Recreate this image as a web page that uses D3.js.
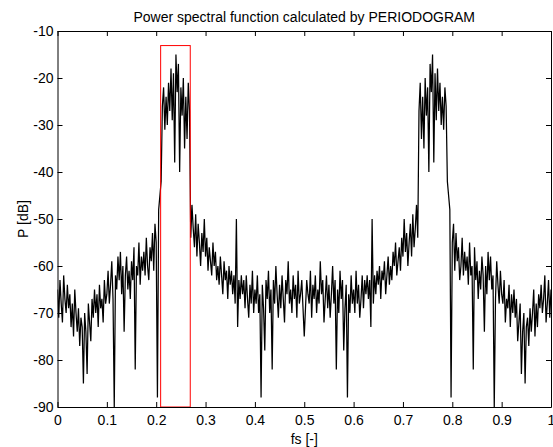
<!DOCTYPE html>
<html>
<head>
<meta charset="utf-8">
<script src="https://cdn.jsdelivr.net/npm/d3@7"></script>
<style>
  body { margin: 0; background: #fff; }
  svg text { font-family: "Liberation Sans", Arial, sans-serif; }
</style>
</head>
<body>
<div id="chart"></div>
<script>
// periodogram values (dB), step of 0.0025 in fs
const freqStep = 0.0025;
const powerLeft = [
  -65, -71, -63, -68, -72, -62, -67, -70, -64, -69,
  -66, -73, -68, -75, -65, -70, -74, -69, -77, -71,
  -73, -85, -70, -74, -83, -68, -72, -76, -67, -71,
  -65, -70, -66, -73, -64, -69, -67, -72, -63, -68,
  -66, -61, -68, -64, -59, -67, -90, -62, -65, -58,
  -63, -57, -66, -60, -74, -62, -58, -65, -61, -67,
  -59, -63, -56, -82, -60, -62, -55, -64, -58, -61,
  -57, -62, -54, -60, -63, -56, -59, -53, -61, -51,
  -55, -88, -48, -45, -42, -26, -22, -31, -24, -30,
  -21, -27, -18, -29, -19, -38, -15, -23, -17, -40,
  -22, -28, -20, -35, -24, -33, -21, -27, -54, -47,
  -52, -56, -49, -58, -51, -55, -60, -53, -57, -50,
  -58, -54, -61, -56, -59, -62, -55, -60, -57, -63,
  -60, -64, -58, -62, -66, -59, -63, -61, -67, -60,
  -64, -61, -66, -62, -68, -50, -73, -63, -67, -62,
  -66, -63, -69, -62, -67, -71, -64, -68, -61, -70,
  -65, -68, -62, -70, -66, -88, -64, -69, -78, -63,
  -67, -61, -70, -65, -82, -63, -68, -60, -66, -71,
  -64, -69, -62, -67, -72, -63, -66, -59, -68, -65,
  -70, -62, -67, -64, -71, -61, -68, -66, -63, -69,
  -75
];
const powerRight = [
  -69, -63, -66, -68, -61, -71, -64, -67, -62, -70,
  -65, -68, -59, -66, -63, -72, -67, -62, -69, -64,
  -71, -66, -60, -68, -63, -82, -65, -70, -61, -67,
  -63, -78, -69, -64, -88, -66, -70, -62, -68, -65,
  -70, -61, -68, -64, -71, -67, -62, -69, -63, -66,
  -62, -67, -63, -73, -50, -68, -62, -66, -61, -64,
  -60, -67, -61, -63, -59, -66, -62, -58, -64, -60,
  -63, -57, -60, -55, -62, -59, -56, -61, -54, -58,
  -50, -57, -53, -60, -55, -51, -58, -49, -56, -52,
  -47, -54, -27, -21, -33, -24, -35, -20, -28, -22,
  -40, -17, -23, -15, -38, -19, -29, -18, -27, -21,
  -30, -24, -31, -22, -26, -42, -45, -48, -88, -55,
  -51, -61, -53, -59, -56, -63, -60, -54, -62, -57,
  -61, -58, -64, -55, -62, -60, -82, -56, -63, -59,
  -67, -61, -65, -58, -62, -74, -60, -66, -57, -63,
  -58, -65, -62, -90, -67, -59, -64, -68, -61, -66,
  -68, -63, -72, -67, -69, -64, -73, -66, -70, -65,
  -71, -67, -76, -72, -68, -83, -74, -70, -85, -73,
  -71, -77, -69, -74, -70, -65, -75, -68, -73, -66,
  -69, -64, -70, -67, -62, -72, -68, -63, -71, -65
];
const xTicks = [0, 0.1, 0.2, 0.3, 0.4, 0.5, 0.6, 0.7, 0.8, 0.9, 1];
const xTickLabels = ['0', '0.1', '0.2', '0.3', '0.4', '0.5', '0.6', '0.7', '0.8', '0.9', '1'];
const yTicks = [-90, -80, -70, -60, -50, -40, -30, -20, -10];
const yTickLabels = ['-90', '-80', '-70', '-60', '-50', '-40', '-30', '-20', '-10'];
// highlighted band [fs from, fs to, dB top]
const bandBox = [0.209, 0.269, -13.1];

const power = powerLeft.concat(powerRight);
const series = power.map((p, i) => ({ f: i * freqStep, p }));

const W = 553, H = 447;
const margin = { top: 31, right: 2, bottom: 40, left: 57.5 };
const width = W - margin.left - margin.right;
const height = H - margin.top - margin.bottom;

const root = d3.select('#chart').append('svg')
  .attr('width', W).attr('height', H);
root.append('rect').attr('width', W).attr('height', H).attr('fill', '#fff');

const svg = root.append('g')
  .attr('transform', `translate(${margin.left},${margin.top})`);

const x = d3.scaleLinear().domain([0, 1]).range([0, width]);
const y = d3.scaleLinear().domain([-90, -10]).range([height, 0]);

svg.append('defs').append('clipPath').attr('id', 'clip')
  .append('rect').attr('width', width).attr('height', height);

const line = d3.line().x(d => x(d.f)).y(d => y(d.p));
svg.append('path').datum(series)
  .attr('clip-path', 'url(#clip)')
  .attr('d', line)
  .attr('fill', 'none').attr('stroke', '#000').attr('stroke-width', 1.25);

svg.append('rect')
  .attr('x', x(bandBox[0])).attr('y', y(bandBox[2]))
  .attr('width', x(bandBox[1]) - x(bandBox[0]))
  .attr('height', y(-90) - y(bandBox[2]))
  .attr('fill', 'none').attr('stroke', '#ff0000').attr('stroke-width', 1);

function styleAxis(g) {
  g.selectAll('path, line').attr('stroke', '#000');
  g.selectAll('text').style('fill', '#000').style('font-size', '14px');
}

svg.append('g').attr('transform', `translate(0,${height})`)
  .call(d3.axisBottom(x).tickValues(xTicks).tickFormat((d, i) => xTickLabels[i])
    .tickSizeInner(-5).tickSizeOuter(0).tickPadding(8))
  .call(styleAxis);
svg.append('g')
  .call(d3.axisTop(x).tickValues(xTicks).tickFormat('').tickSizeInner(-5).tickSizeOuter(0))
  .call(styleAxis);
svg.append('g')
  .call(d3.axisLeft(y).tickValues(yTicks).tickFormat((d, i) => yTickLabels[i])
    .tickSizeInner(-5).tickSizeOuter(0).tickPadding(4))
  .call(styleAxis);
svg.append('g').attr('transform', `translate(${width},0)`)
  .call(d3.axisRight(y).tickValues(yTicks).tickFormat('').tickSizeInner(-5).tickSizeOuter(0))
  .call(styleAxis);

svg.append('text')
  .attr('x', width / 2).attr('y', -9)
  .attr('text-anchor', 'middle')
  .style('font-size', '14px').style('fill', '#000')
  .text('Power spectral function calculated by PERIODOGRAM');

svg.append('text')
  .attr('x', width / 2).attr('y', height + 37)
  .attr('text-anchor', 'middle')
  .style('font-size', '14px').style('fill', '#000')
  .text('fs [-]');

svg.append('text')
  .attr('transform', `translate(${-30},${height / 2}) rotate(-90)`)
  .attr('text-anchor', 'middle')
  .style('font-size', '14px').style('fill', '#000')
  .text('P [dB]');
</script>
</body>
</html>
